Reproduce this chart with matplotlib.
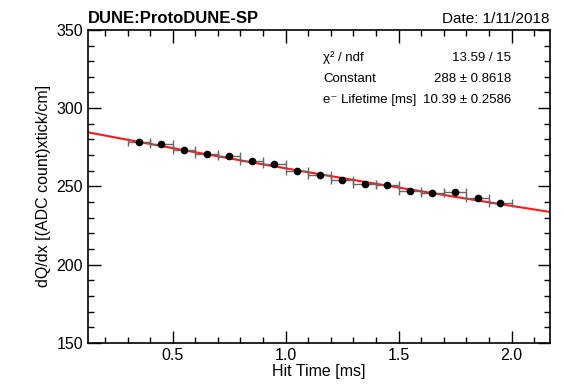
import matplotlib

matplotlib.use("Agg")

import matplotlib.pyplot as plt
import numpy as np
from matplotlib.ticker import MultipleLocator

plt.rcParams["font.family"] = ["Liberation Sans", "DejaVu Sans"]

# hit time bins (ms) and measured dQ/dx
hit_time = [0.35, 0.45, 0.55, 0.65, 0.75, 0.85, 0.95, 1.05, 1.15,
            1.25, 1.35, 1.45, 1.55, 1.65, 1.75, 1.85, 1.95]
dqdx = [278.7, 277.4, 273.3, 270.7, 269.7, 266.0, 264.3, 259.8, 257.1,
        253.8, 251.5, 251.1, 247.2, 245.5, 246.6, 242.3, 239.3]
bin_half_width = 0.05

# exponential fit result
fit_constant = 288.0
fit_lifetime = 10.39

stats_rows = [
    ("\u03c7\u00b2 / ndf", "13.59 / 15"),
    ("Constant", "288 \u00b1 0.8618"),
    ("e\u207b Lifetime [ms]", "10.39 \u00b1 0.2586"),
]

xlim = (0.125, 2.17)
ylim = (150, 350)

fig = plt.figure(figsize=(5.64, 3.88), dpi=100)
ax = fig.add_axes([0.156, 0.116, 0.819, 0.807])

ax.errorbar(
    hit_time,
    dqdx,
    xerr=bin_half_width,
    fmt="o",
    color="black",
    ecolor="#666666",
    elinewidth=1,
    capsize=3,
    markersize=4.5,
    zorder=3,
)

t = np.linspace(xlim[0], xlim[1], 200)
ax.plot(t, fit_constant * np.exp(-t / fit_lifetime), color="#ff1a1a", linewidth=1.5, zorder=2)

ax.set_xlim(*xlim)
ax.set_ylim(*ylim)
ax.xaxis.set_major_locator(MultipleLocator(0.5))
ax.xaxis.set_minor_locator(MultipleLocator(0.1))
ax.yaxis.set_major_locator(MultipleLocator(50))
ax.yaxis.set_minor_locator(MultipleLocator(10))
ax.tick_params(which="both", direction="in", top=True, right=True, labelsize=11.5, width=1)
ax.tick_params(which="major", length=9)
ax.tick_params(which="minor", length=4.5)
ax.xaxis.set_major_formatter(matplotlib.ticker.FormatStrFormatter("%.1f"))
for spine in ax.spines.values():
    spine.set_linewidth(1.2)

ax.set_xlabel("Hit Time [ms]", fontsize=11.5, labelpad=1)
ax.set_ylabel("dQ/dx [(ADC count)xtick/cm]", fontsize=11.5, labelpad=4)

fig.text(88 / 564, 1 - 23 / 388, "DUNE:ProtoDUNE-SP", fontsize=12, fontweight="bold", ha="left", va="baseline")
fig.text(550 / 564, 1 - 23 / 388, "Date: 1/11/2018", fontsize=11, ha="right", va="baseline")

row_y = [58, 79, 100]
for (label, value), y in zip(stats_rows, row_y):
    fig.text(323 / 564, 1 - y / 388, label, fontsize=9.5, ha="left", va="center")
    fig.text(511 / 564, 1 - y / 388, value, fontsize=9.5, ha="right", va="center")

fig.savefig("out.png", dpi=100)
